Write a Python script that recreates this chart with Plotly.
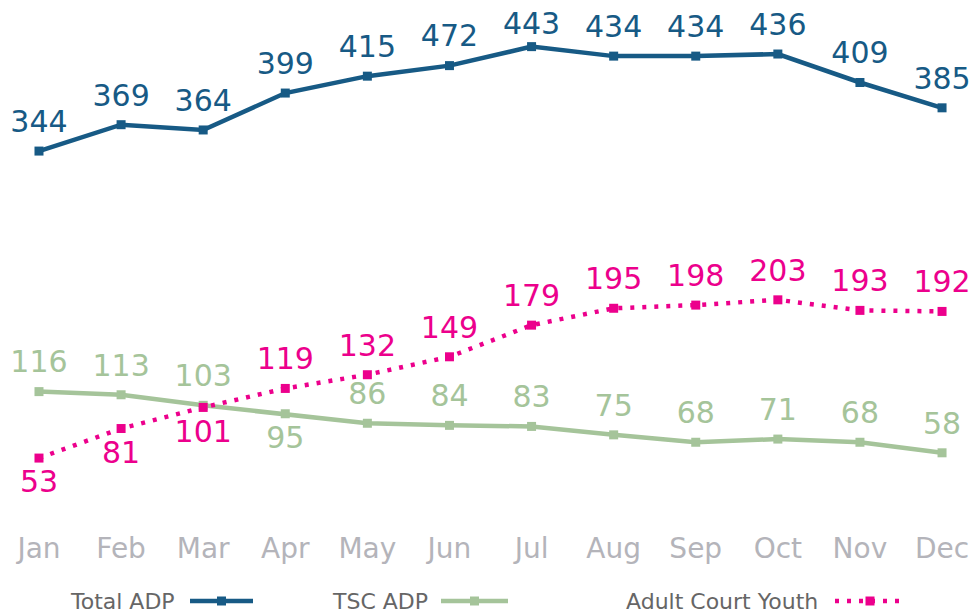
import plotly.graph_objects as go

months = ["Jan", "Feb", "Mar", "Apr", "May", "Jun", "Jul", "Aug", "Sep", "Oct", "Nov", "Dec"]

total_adp = [344, 369, 364, 399, 415, 425, 443, 434, 434, 436, 409, 385]
total_labels = ["344", "369", "364", "399", "415", "472", "443", "434", "434", "436", "409", "385"]

tsc_adp = [116, 113, 103, 95, 86, 84, 83, 75, 68, 71, 68, 58]
tsc_pos = ["top center"] * 3 + ["bottom center"] + ["top center"] * 8

adult_court = [53, 81, 101, 119, 132, 149, 179, 195, 198, 203, 193, 192]
adult_pos = ["bottom center"] * 3 + ["top center"] * 9

C_TOTAL = "#175a85"
C_TSC = "#a5c49a"
C_ADULT = "#ec008c"
FONT = "DejaVu Sans"
DOT = "4px,8px"

total_gap = [17] * 6 + [6] + [17] * 5

series = [
    ("Total ADP", total_adp, total_labels, ["top center"] * 12, C_TOTAL, "solid", total_gap),
    ("TSC ADP", tsc_adp, [str(v) for v in tsc_adp], tsc_pos, C_TSC, "solid", 17),
    ("Adult Court Youth", adult_court, [str(v) for v in adult_court], adult_pos, C_ADULT, DOT, 17),
]

fig = go.Figure()
for name, vals, labels, pos, col, dash, gap in series:
    fig.add_trace(go.Scatter(
        x=months, y=vals, mode="lines+markers", name=name,
        line=dict(color=col, width=4.5, dash=dash),
        marker=dict(symbol="square", size=9, color=col),
        cliponaxis=False,
    ))
for name, vals, labels, pos, col, dash, gap in series:
    fig.add_trace(go.Scatter(
        x=months, y=vals, mode="markers+text", name=name + " labels",
        text=labels, textposition=pos,
        textfont=dict(family=FONT, size=30, color=col),
        marker=dict(size=gap, opacity=0, color=col),
        hoverinfo="skip", cliponaxis=False,
    ))

H = 520.0
def py(p):
    return (H - p) / H

legend_items = [
    ("Total ADP", 177, 190, 253, C_TOTAL, "solid"),
    ("TSC ADP", 430, 441, 508, C_TSC, "solid"),
    ("Adult Court Youth", 820, 835, 905, C_ADULT, DOT),
]
annotations = []
shapes = []
for label, tx, x0, x1, col, dash in legend_items:
    annotations.append(dict(
        text=label, xref="paper", yref="paper", x=tx / 972, y=py(602),
        xanchor="right", yanchor="middle", showarrow=False,
        font=dict(family=FONT, size=22, color="#666666"),
    ))
    shapes.append(dict(
        type="line", xref="paper", yref="paper",
        x0=x0 / 972, x1=x1 / 972, y0=py(601), y1=py(601),
        line=dict(color=col, width=4.5, dash=dash),
    ))
    cx = (x0 + x1) / 2
    shapes.append(dict(
        type="rect", xref="paper", yref="paper",
        x0=(cx - 4.5) / 972, x1=(cx + 4.5) / 972, y0=py(605.5), y1=py(596.5),
        fillcolor=col, line=dict(width=0),
    ))

fig.update_layout(
    width=972, height=616,
    margin=dict(l=0, r=0, t=0, b=96),
    plot_bgcolor="white", paper_bgcolor="white",
    showlegend=False,
    xaxis=dict(
        type="category", range=[-0.475, 11.365],
        showgrid=False, zeroline=False, showline=False,
        tickfont=dict(family=FONT, size=28, color="#b4b4ba"),
        ticks="outside", ticklen=3, tickcolor="rgba(0,0,0,0)",
    ),
    yaxis=dict(
        range=[-5.7, 487.2], visible=False, showgrid=False, zeroline=False,
    ),
    annotations=annotations,
    shapes=shapes,
)

fig.write_html(
    "out.html",
    config={"displayModeBar": False},
    post_script="document.body.style.margin='0';document.body.style.overflow='hidden';",
)
